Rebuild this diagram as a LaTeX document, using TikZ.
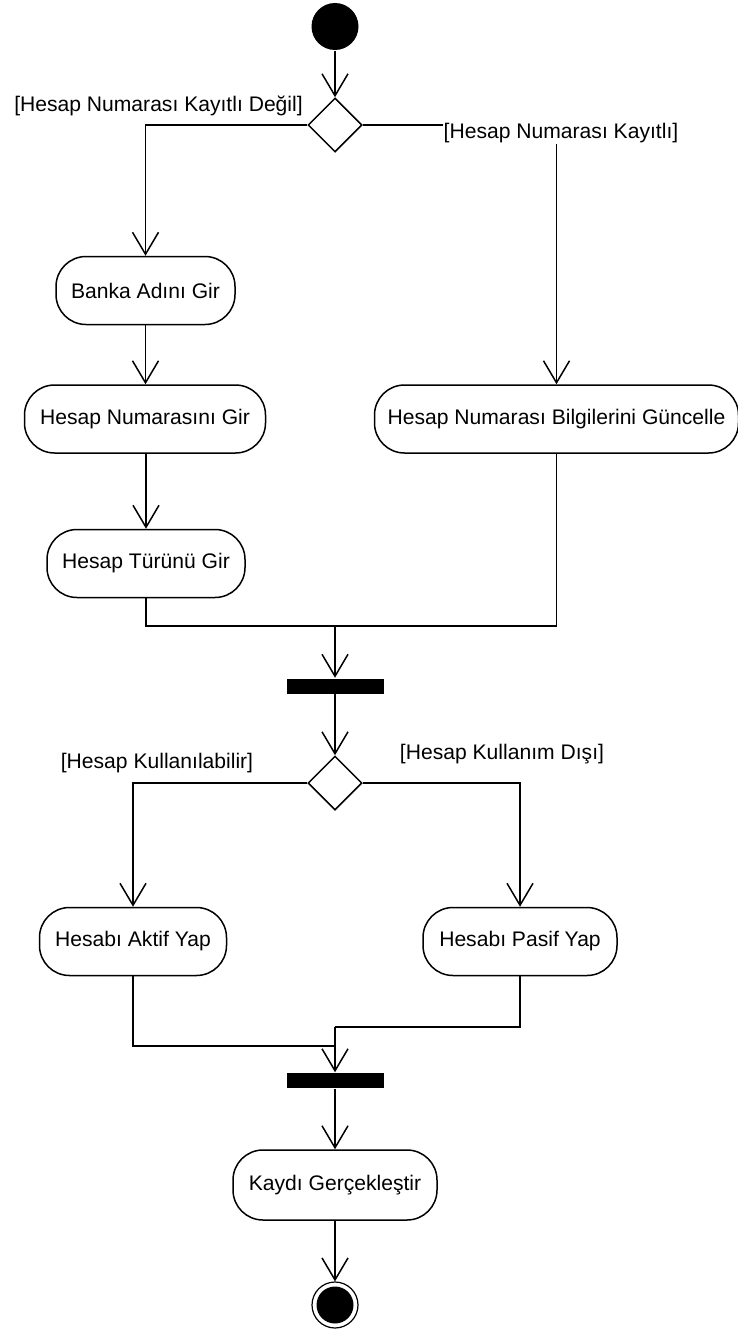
\documentclass[tikz,border=0pt]{standalone}
\usepackage{fontspec}
\setmainfont{Liberation Sans}
\usetikzlibrary{arrows.meta,shapes.geometric}
\begin{document}
\begin{tikzpicture}[x=1pt,y=-1pt,
  font=\fontsize{21.1pt}{25pt}\selectfont,
  line width=1.5pt,
  act/.style={draw, rectangle, rounded corners=30pt, minimum height=68pt, inner sep=0pt},
  dec/.style={draw, diamond, aspect=1, minimum width=54pt, minimum height=54pt, inner sep=0pt, fill=white},
  barnode/.style={fill=black, minimum width=97pt, minimum height=15pt, inner sep=0pt},
  guard/.style={fill=white, inner sep=1pt},
  flow/.style={-{Straight Barb[length=22pt,width=26pt,line width=1.5pt]}},
  ]
\useasboundingbox (0,0) rectangle (738,1330);
% nodes
\node[circle, fill=black, minimum size=47pt, inner sep=0pt] (start) at (335,26.5) {};
\node[dec] (d1) at (335,125) {};
\node[act, minimum width=179pt] (banka) at (145.5,290.5) {Banka Adını Gir};
\node[act, minimum width=241pt] (numara) at (145,419) {Hesap Numarasını Gir};
\node[act, minimum width=198pt] (turu) at (146,563.5) {Hesap Türünü Gir};
\node[act, minimum width=364pt] (gunc) at (556.5,419) {Hesap Numarası Bilgilerini Güncelle};
\node[barnode] (bar1) at (335,686) {};
\node[dec] (d2) at (335,783) {};
\node[act, minimum width=187pt] (aktif) at (133,941.5) {Hesabı Aktif Yap};
\node[act, minimum width=194pt] (pasif) at (520,941.5) {Hesabı Pasif Yap};
\node[barnode] (bar2) at (335,1080.5) {};
\node[act, minimum width=204pt, minimum height=70pt] (kayd) at (335,1185) {Kaydı Gerçekleştir};
\node[circle, draw, line width=1.2pt, minimum size=46pt, inner sep=0pt] (endo) at (335,1305) {};
\node[circle, fill=black, minimum size=37pt, inner sep=0pt] (endi) at (335,1305) {};
\coordinate (m1) at (335,626);
\coordinate (m2) at (335,1027);
\coordinate (m2a) at (335,1046);
% connectors
\draw[flow] (start) -- (d1.north);
\draw[flow] (d1.west) -| (banka.north);
\draw[flow] (d1.east) -| (gunc.north);
\draw[flow] (banka.south) -- (banka.south |- numara.north);
\draw[flow] (numara.south -| turu.north) -- (turu.north);
\draw (turu.south) |- (m1);
\draw (gunc.south) |- (m1);
\draw[flow] (m1) -- (bar1.north);
\draw[flow] (bar1.south) -- (d2.north);
\draw[flow] (d2.west) -| (aktif.north);
\draw[flow] (d2.east) -| (pasif.north);
\draw (aktif.south) |- (m2a);
\draw (pasif.south) |- (m2);
\draw[flow] (m2) -- (bar2.north);
\draw[flow] (bar2.south) -- (kayd.north);
\draw[flow] (kayd.south) -- (endo.north);
% guards
\node[guard] (g1) at (158.5,106) {[Hesap Numarası Kayıtlı Değil]};
\node[guard] (g2) at (561,133) {[Hesap Numarası Kayıtlı]};
\node[guard] (g3) at (157,763) {[Hesap Kullanılabilir]};
\node[guard] (g4) at (502,754) {[Hesap Kullanım Dışı]};
\end{tikzpicture}
\end{document}
